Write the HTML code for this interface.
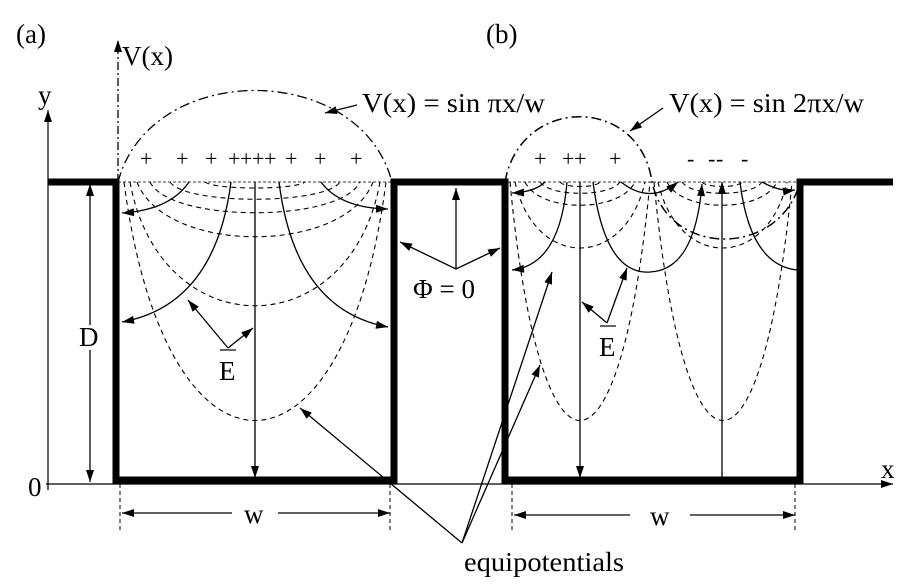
<!DOCTYPE html>
<html><head><meta charset="utf-8"><style>
html,body{margin:0;padding:0;background:#fff;}
svg{display:block;}
text{font-family:"Liberation Serif",serif;fill:#000;}
</style></head><body>
<svg width="904" height="586" viewBox="0 0 904 586" xmlns="http://www.w3.org/2000/svg">
<defs>
<marker id="a" viewBox="0 0 12 8" refX="12" refY="4" markerWidth="13" markerHeight="8" markerUnits="userSpaceOnUse" orient="auto"><path d="M0,0L12,4L0,8z" fill="#000"/></marker>
</defs>
<g fill="none" stroke="#000">
<line x1="48" y1="490" x2="48" y2="110" stroke-width="1.2" marker-end="url(#a)"/>
<line x1="46" y1="484" x2="893" y2="484" stroke-width="1.2" marker-end="url(#a)"/>
<line x1="118" y1="182" x2="118" y2="40" stroke-width="1.3" stroke-dasharray="8,3,2,3" marker-end="url(#a)"/>
<path d="M48,182H116V480H394V182H505V480H800V182H893" stroke-width="7"/>
<line x1="118" y1="182" x2="392" y2="182" stroke-width="0.8" stroke-dasharray="3,2"/>
<line x1="508" y1="182" x2="798" y2="182" stroke-width="0.8" stroke-dasharray="3,2"/>
<path d="M118,182 C150,60 360,60 392,182" stroke-width="1.3" stroke-dasharray="10,4,2,4"/>
<path d="M505,182 C520,95 640,95 652,182 C668,258 780,258 800,182" stroke-width="1.5" stroke-dasharray="10,4,2,4"/>
<g stroke-width="1.1" stroke-dasharray="5,4">
<path d="M205,182 C215,190 295,190 305,182"/>
<path d="M170,182 C185,205 325,205 340,182"/>
<path d="M150,182 C170,223 340,223 360,182"/>
<path d="M137,182 C165,255 345,255 373,182"/>
<path d="M130,182 C160,347 350,347 380,182"/>
<path d="M124,182 C165,500 345,500 386,182"/>
</g>
<g stroke-width="1.3">
<line x1="255" y1="182" x2="255" y2="478" marker-end="url(#a)"/>
<path d="M189,182 Q170,210 122,213" marker-end="url(#a)"/>
<path d="M231,182 Q215,305 122,322" marker-end="url(#a)"/>
<path d="M321,182 Q340,208 388,209" marker-end="url(#a)"/>
<path d="M279,182 Q295,310 388,327" marker-end="url(#a)"/>
<path d="M228,348L188,300" marker-end="url(#a)"/>
<path d="M228,348L253,328" marker-end="url(#a)"/>
<path d="M456,269V188" marker-end="url(#a)"/>
<path d="M456,269L400,242" marker-end="url(#a)"/>
<path d="M456,269L500,248" marker-end="url(#a)"/>
<path d="M357,105L325,113" marker-end="url(#a)"/>
<path d="M663,108L630,131" marker-end="url(#a)"/>
</g>
<g stroke-width="1.1" stroke-dasharray="5,4">
<path d="M560,182 C564,188 596,188 600,182"/>
<path d="M540,182 C550,197 610,197 620,182"/>
<path d="M525,182 C540,213 620,213 635,182"/>
<path d="M515,182 C535,270 625,270 645,182"/>
<path d="M510,182 C540,500 620,500 650,182"/>
<path d="M702,182 C706,188 738,188 742,182"/>
<path d="M682,182 C692,197 752,197 762,182"/>
<path d="M667,182 C682,213 762,213 777,182"/>
<path d="M658,182 C678,270 767,270 787,182"/>
<path d="M654,182 C684,500 762,500 792,182"/>
</g>
<g stroke-width="1.3">
<line x1="580" y1="182" x2="580" y2="478" marker-end="url(#a)"/>
<line x1="722" y1="478" x2="722" y2="182" marker-end="url(#a)"/>
<path d="M545,182 Q535,192 512,193" marker-end="url(#a)"/>
<path d="M567,182 Q560,265 512,270" marker-end="url(#a)"/>
<path d="M621,182 Q650,205 678,182" marker-end="url(#a)"/>
<path d="M593,182 Q605,275 650,272 Q695,270 702,184" marker-end="url(#a)"/>
<path d="M740,182 Q750,265 797,270"/>
<path d="M762,182 Q780,192 795,190" marker-end="url(#a)"/>
<path d="M607,323L582,302" marker-end="url(#a)"/>
<path d="M607,323L627,268" marker-end="url(#a)"/>
<path d="M462,543L300,408" marker-end="url(#a)"/>
<path d="M462,543L552,272" marker-end="url(#a)"/>
<path d="M462,543L540,365" marker-end="url(#a)"/>
<path d="M90,325V184" marker-end="url(#a)"/>
<path d="M90,350V482" marker-end="url(#a)"/>
<path d="M232,513H122" marker-end="url(#a)"/>
<path d="M278,513H390" marker-end="url(#a)"/>
<path d="M630,515H514" marker-end="url(#a)"/>
<path d="M690,515H795" marker-end="url(#a)"/>
</g>
<g stroke-width="1" stroke-dasharray="4,3">
<line x1="120" y1="484" x2="120" y2="530"/>
<line x1="390" y1="484" x2="390" y2="530"/>
<line x1="512" y1="484" x2="512" y2="532"/>
<line x1="795" y1="484" x2="795" y2="532"/>
</g>
</g>
<g font-size="27">
<text x="16" y="43">(a)</text>
<text x="486" y="43">(b)</text>
<text x="122" y="65">V(x)</text>
<text x="38" y="104">y</text>
<text x="362" y="112" textLength="183" lengthAdjust="spacingAndGlyphs">V(x) = sin πx/w</text>
<text x="669" y="112" textLength="195" lengthAdjust="spacingAndGlyphs">V(x) = sin 2πx/w</text>
<text x="79" y="346">D</text>
<text x="28" y="496">0</text>
<text x="881" y="478">x</text>
<text x="413" y="298">Φ = 0</text>
<text x="219" y="380">E</text>
<text x="599" y="356">E</text>
<text x="244" y="523">w</text>
<text x="650" y="525">w</text>
<text x="464" y="571" textLength="160" lengthAdjust="spacingAndGlyphs">equipotentials</text>
</g>
<g font-size="22">
<text x="140" y="166">+</text><text x="176" y="166">+</text><text x="205" y="166">+</text><text x="228" y="166">+</text><text x="240" y="166">+</text><text x="252" y="166">+</text><text x="264" y="166">+</text><text x="285" y="166">+</text><text x="314" y="166">+</text><text x="350" y="166">+</text>
<text x="534" y="166">+</text><text x="562" y="166">+</text><text x="574" y="166">+</text><text x="609" y="166">+</text>
<text x="687" y="166">-</text><text x="708" y="166">-</text><text x="716" y="166">-</text><text x="741" y="166">-</text>
</g>
<line x1="220" y1="350" x2="236" y2="350" stroke="#000" stroke-width="1.2"/>
<line x1="600" y1="326" x2="616" y2="326" stroke="#000" stroke-width="1.2"/>
</svg>
</body></html>
